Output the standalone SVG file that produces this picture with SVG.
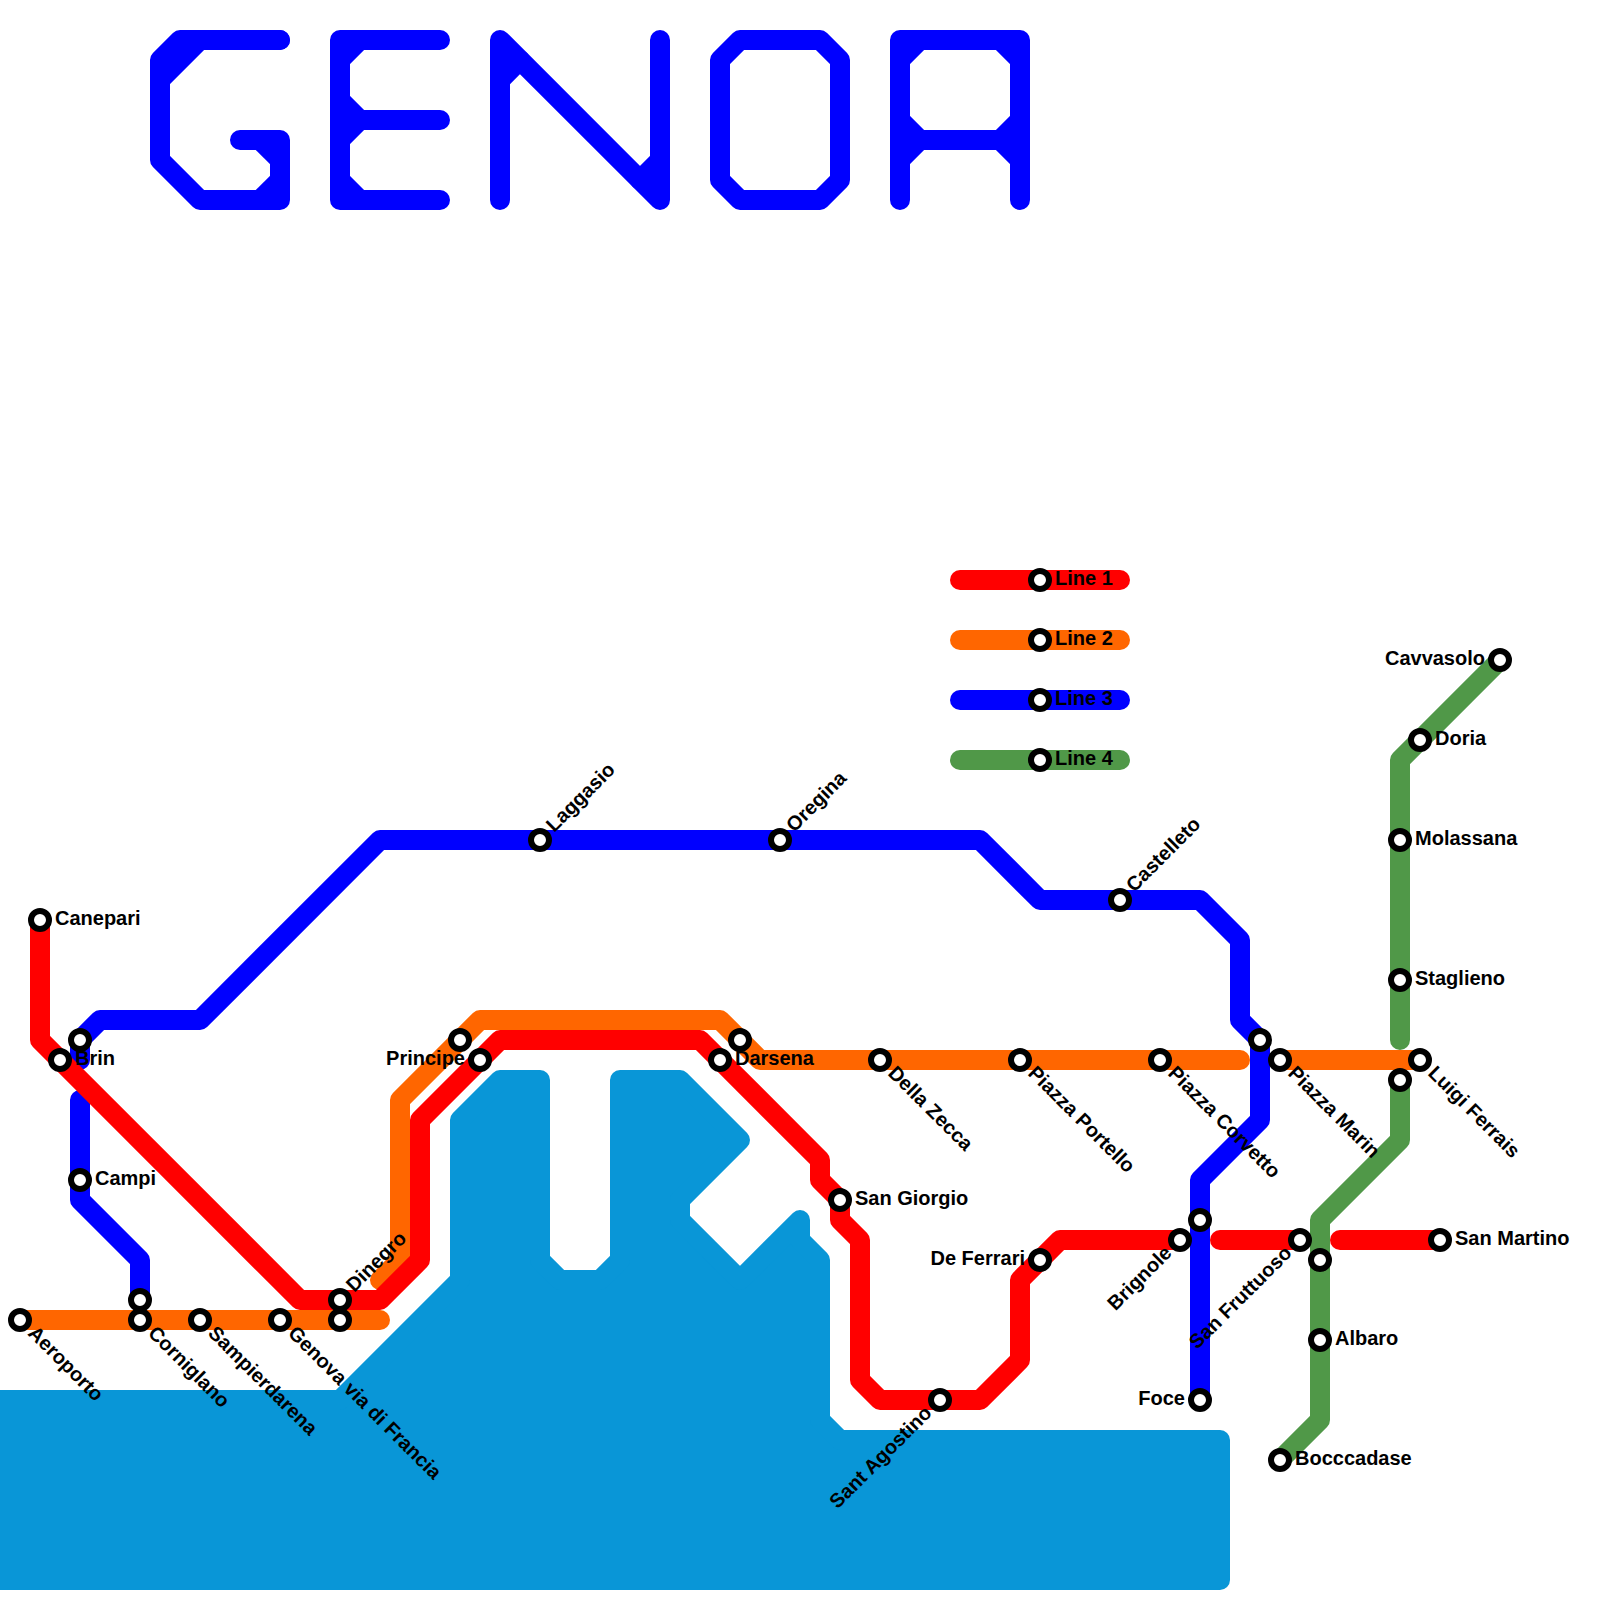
<svg xmlns="http://www.w3.org/2000/svg" width="1600" height="1600" viewBox="0 0 1600 1600">
<style>
.ln{fill:none;stroke-width:20;stroke-linecap:round;stroke-linejoin:round}
.r{stroke:#ff0000}.o{stroke:#ff6600}.b{stroke:#0000ff}.g{stroke:#509848}
.st{fill:#fff;stroke:#000;stroke-width:6}
text{font-family:"Liberation Sans",Arial,sans-serif;font-weight:700;font-size:20px;fill:#000}
.e{text-anchor:end}
</style>
<defs><circle id="s" r="9" class="st"/></defs>
<path id="sea" d="M-20,1400H340L460,1280V1120L500,1080H540V1260L560,1280H600L620,1260V1080H680L740,1140L680,1200V1220L740,1280L800,1220V1240L820,1260V1420L840,1440H1220V1580H-20Z" fill="#0996d7" stroke="#0996d7" stroke-width="20" stroke-linejoin="round"/>
<g id="title" class="ln b">
<path d="M280,40H200L160,80V160L200,200H280V140H240"/><path d="M280,40H180L160,60V80"/><path d="M260,140L280,160"/><path d="M260,200L280,180"/>
<path d="M440,40H340V200H440"/><path d="M360,40L340,60"/><path d="M340,100L360,120L340,140"/><path d="M360,120H440"/><path d="M340,180L360,200"/>
<path d="M500,200V40L660,200V40"/><path d="M500,80L520,60"/><path d="M640,180L660,160"/>
<path d="M740,40H820L840,60V180L820,200H740L720,180V60Z"/>
<path d="M900,200V40H1020V200"/><path d="M920,40L900,60"/><path d="M1000,40L1020,60"/><path d="M900,140H1020"/><path d="M900,120L920,140L900,160"/><path d="M1020,120L1000,140L1020,160"/>
</g>
<g id="connectors" class="ln">
<path class="o" d="M20,1320H380"/>
<path class="o" d="M380,1280L400,1260V1100L480,1020H720L760,1060H1240"/>
<path class="o" d="M1280,1060H1420"/>
<path class="b" d="M80,1060V1040L100,1020H200L380,840H980L1040,900H1200L1240,940V1020L1260,1040V1120L1200,1180V1400"/>
<path class="b" d="M80,1100V1200L140,1260V1300"/>
<path class="r" d="M40,920V1040L300,1300H380L420,1260V1120L500,1040H700L820,1160V1180L840,1200V1220L860,1240V1380L880,1400H980L1020,1360V1280L1060,1240H1180"/>
<path class="r" d="M1220,1240H1300"/>
<path class="r" d="M1340,1240H1440"/>
<path class="g" d="M1500,660L1400,760V1040"/>
<path class="g" d="M1400,1080V1140L1320,1220V1420L1280,1460"/>
<path class="r" d="M960,580H1120"/>
<path class="o" d="M960,640H1120"/>
<path class="b" d="M960,700H1120"/>
<path class="g" d="M960,760H1120"/>
</g>
<g id="n-canepari"><use href="#s" x="40" y="920"/><text x="55" y="925">Canepari</text></g>
<g id="n-brin1"><use href="#s" x="80" y="1040"/></g>
<g id="n-brin"><use href="#s" x="60" y="1060"/><text x="75" y="1065">Brin</text></g>
<g id="n-campi"><use href="#s" x="80" y="1180"/><text x="95" y="1185">Campi</text></g>
<g id="n-corn1"><use href="#s" x="140" y="1300"/></g>
<g id="n-aeroporto"><use href="#s" x="20" y="1320"/><text transform="translate(27.07,1334.14) rotate(45)">Aeroporto</text></g>
<g id="n-cornigliano"><use href="#s" x="140" y="1320"/><text transform="translate(147.07,1334.14) rotate(45)">Corniglano</text></g>
<g id="n-sampierdarena"><use href="#s" x="200" y="1320"/><text transform="translate(207.07,1334.14) rotate(45)">Sampierdarena</text></g>
<g id="n-genova"><use href="#s" x="280" y="1320"/><text transform="translate(287.07,1334.14) rotate(45)">Genova via di Francia</text></g>
<g id="n-dinegro"><use href="#s" x="340" y="1300"/><text transform="translate(354.14,1292.93) rotate(-45)">Dinegro</text></g>
<g id="n-dinegro2"><use href="#s" x="340" y="1320"/></g>
<g id="n-principe2"><use href="#s" x="460" y="1040"/></g>
<g id="n-principe"><use href="#s" x="480" y="1060"/><text class="e" x="465" y="1065">Principe</text></g>
<g id="n-laggasio"><use href="#s" x="540" y="840"/><text transform="translate(554.14,832.93) rotate(-45)">Laggasio</text></g>
<g id="n-oregina"><use href="#s" x="780" y="840"/><text transform="translate(794.14,832.93) rotate(-45)">Oregina</text></g>
<g id="n-darsena"><use href="#s" x="720" y="1060"/><text x="735" y="1065">Darsena</text></g>
<g id="n-darsena2"><use href="#s" x="740" y="1040"/></g>
<g id="n-zecca"><use href="#s" x="880" y="1060"/><text transform="translate(887.07,1074.14) rotate(45)">Della Zecca</text></g>
<g id="n-portello"><use href="#s" x="1020" y="1060"/><text transform="translate(1027.07,1074.14) rotate(45)">Piazza Portello</text></g>
<g id="n-corvetto"><use href="#s" x="1160" y="1060"/><text transform="translate(1167.07,1074.14) rotate(45)">Piazza Corvetto</text></g>
<g id="n-marin"><use href="#s" x="1280" y="1060"/><text transform="translate(1287.07,1074.14) rotate(45)">Piazza Marin</text></g>
<g id="n-ferrais"><use href="#s" x="1420" y="1060"/><text transform="translate(1427.07,1074.14) rotate(45)">Luigi Ferrais</text></g>
<g id="n-b-1260"><use href="#s" x="1260" y="1040"/></g>
<g id="n-g-1080"><use href="#s" x="1400" y="1080"/></g>
<g id="n-giorgio"><use href="#s" x="840" y="1200"/><text x="855" y="1205">San Giorgio</text></g>
<g id="n-agostino"><use href="#s" x="940" y="1400"/><text class="e" transform="translate(932.93,1414.14) rotate(-45)">Sant Agostino</text></g>
<g id="n-ferrari"><use href="#s" x="1040" y="1260"/><text class="e" x="1025" y="1265">De Ferrari</text></g>
<g id="n-castelleto"><use href="#s" x="1120" y="900"/><text transform="translate(1134.14,892.93) rotate(-45)">Castelleto</text></g>
<g id="n-brignole"><use href="#s" x="1180" y="1240"/><text class="e" transform="translate(1172.93,1254.14) rotate(-45)">Brignole</text></g>
<g id="n-b-1220"><use href="#s" x="1200" y="1220"/></g>
<g id="n-foce"><use href="#s" x="1200" y="1400"/><text class="e" x="1185" y="1405">Foce</text></g>
<g id="n-fruttuoso"><use href="#s" x="1300" y="1240"/><text class="e" transform="translate(1292.93,1254.14) rotate(-45)">San Fruttuoso</text></g>
<g id="n-g-1260"><use href="#s" x="1320" y="1260"/></g>
<g id="n-martino"><use href="#s" x="1440" y="1240"/><text x="1455" y="1245">San Martino</text></g>
<g id="n-albaro"><use href="#s" x="1320" y="1340"/><text x="1335" y="1345">Albaro</text></g>
<g id="n-boccadase"><use href="#s" x="1280" y="1460"/><text x="1295" y="1465">Bocccadase</text></g>
<g id="n-cavvasolo"><use href="#s" x="1500" y="660"/><text class="e" x="1485" y="665">Cavvasolo</text></g>
<g id="n-doria"><use href="#s" x="1420" y="740"/><text x="1435" y="745">Doria</text></g>
<g id="n-molassana"><use href="#s" x="1400" y="840"/><text x="1415" y="845">Molassana</text></g>
<g id="n-staglieno"><use href="#s" x="1400" y="980"/><text x="1415" y="985">Staglieno</text></g>
<g id="legend-1"><use href="#s" x="1040" y="580"/><text x="1055" y="585">Line 1</text></g>
<g id="legend-2"><use href="#s" x="1040" y="640"/><text x="1055" y="645">Line 2</text></g>
<g id="legend-3"><use href="#s" x="1040" y="700"/><text x="1055" y="705">Line 3</text></g>
<g id="legend-4"><use href="#s" x="1040" y="760"/><text x="1055" y="765">Line 4</text></g>
</svg>
